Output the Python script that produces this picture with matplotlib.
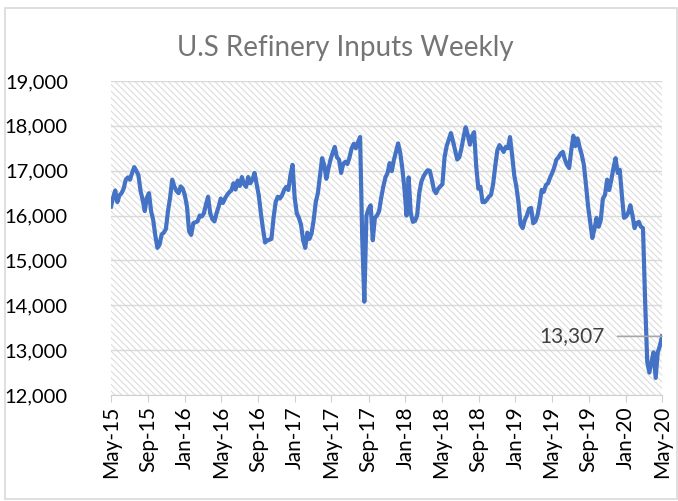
import numpy as np
import pandas as pd
import matplotlib
matplotlib.use("Agg")
import matplotlib.pyplot as plt
import matplotlib.dates as mdates
from matplotlib.patches import Rectangle
from matplotlib.ticker import FuncFormatter

plt.rcParams['font.family'] = ['Lato', 'DejaVu Sans']
plt.rcParams['hatch.linewidth'] = 0.8

# weekly refinery inputs (thousand b/d), May-2015 .. May-2020
start_date = '2015-05-01'
inputs = [
    16200, 16400, 16560, 16300, 16450, 16500, 16600, 16800, 16850, 16800,
    16950, 17080, 17000, 16900, 16550, 16350, 16100, 16400, 16500, 16100,
    15900, 15550, 15280, 15350, 15580, 15620, 15700, 16100, 16400, 16800,
    16650, 16550, 16500, 16650, 16600, 16450, 16200, 15650, 15570, 15830,
    15850, 15870, 16000, 15980, 16050, 16250, 16420, 16050, 15920, 15870,
    16050, 16200, 16380, 16280, 16380, 16460, 16520, 16560, 16720, 16580,
    16780, 16660, 16860, 16700, 16640, 16860, 16720, 16800, 16950, 16700,
    16450, 16050, 15700, 15400, 15450, 15460, 15480, 15950, 16300, 16420,
    16380, 16450, 16570, 16640, 16570, 16900, 17130, 16400, 16050, 15950,
    15800, 15450, 15280, 15620, 15480, 15600, 15900, 16300, 16500, 16900,
    17280, 17130, 16820, 17050, 17250, 17400, 17530, 17300, 17250, 16950,
    17150, 17200, 17150, 17300, 17500, 17600, 17500, 17640, 17750, 15500,
    14080, 16000, 16150, 16230, 15450, 15950, 16000, 16100, 16400, 16650,
    16850, 16950, 17170, 16990, 17240, 17420, 17610, 17400, 17050, 16600,
    16000, 16850, 16050, 15860, 15880, 16000, 16500, 16750, 16870, 16950,
    17010, 17000, 16800, 16570, 16500, 16600, 16650, 16700, 17300, 17550,
    17690, 17840, 17660, 17450, 17250, 17300, 17500, 17750, 17970, 17800,
    17580, 17770, 17860, 17100, 16600, 16640, 16300, 16300, 16350, 16420,
    16460, 16700, 17100, 17450, 17570, 17500, 17420, 17530, 17500, 17750,
    17350, 16900, 16650, 16300, 15800, 15720, 15900, 16000, 16150, 16170,
    15830, 15870, 16000, 16250, 16570, 16530, 16680, 16720, 16850, 16950,
    17080, 17250, 17300, 17380, 17420, 17250, 17130, 17060, 17450, 17780,
    17550, 17720, 17520, 17350, 17130, 16680, 16200, 15850, 15500, 15700,
    15950, 15750, 15900, 16380, 16460, 16800, 16570, 16800, 17060, 17280,
    16950, 17020, 16450, 15950, 15980, 16060, 16230, 16010, 15720, 15830,
    15860, 15750, 15720, 14100, 12740, 12500, 12740, 12950, 12380, 12950,
    13100, 13307,
]
dates = pd.date_range(start_date, periods=len(inputs), freq='7D')

title = 'U.S Refinery Inputs Weekly'
y_ticks = [12000, 13000, 14000, 15000, 16000, 17000, 18000, 19000]

fig = plt.figure(figsize=(6.78, 5.01), dpi=100)
ax = fig.add_axes([0.1637, 0.2116, 0.8127, 0.6267])

# hatched plot background
ax.set_facecolor('white')
ax.add_patch(Rectangle((0, 0), 1, 1, transform=ax.transAxes, facecolor='white',
                       edgecolor='#dcdcdc', hatch='\\\\\\\\\\', lw=0, zorder=0))

ax.plot(dates, inputs, color='#4472C4', lw=3.0, solid_joinstyle='round', zorder=3)

ax.set_ylim(y_ticks[0], y_ticks[-1])
ax.set_yticks(y_ticks)
ax.yaxis.set_major_formatter(FuncFormatter(lambda v, p: f'{int(v):,}'))
ax.grid(axis='y', color='#d9d9d9', lw=1.0, zorder=1)
ax.set_axisbelow(True)

ax.set_xlim(dates[0], dates[-1])
ax.xaxis.set_major_locator(mdates.MonthLocator(bymonth=[1, 5, 9]))
ax.xaxis.set_major_formatter(mdates.DateFormatter('%b-%y'))
for lbl in ax.get_xticklabels():
    lbl.set_rotation(90)

for s in ['top', 'right', 'left']:
    ax.spines[s].set_visible(False)
ax.spines['bottom'].set_color('#d0d0d0')
ax.tick_params(axis='y', length=0, labelsize=14.5, pad=31, colors='black')
ax.tick_params(axis='x', length=5, color='#d0d0d0', labelsize=15, pad=3)

ax.annotate(f'{inputs[-1]:,}', xy=(dates[-1], inputs[-1]), xytext=(-41, 0),
            textcoords='offset points', ha='right', va='center', fontsize=15,
            color='#404040',
            arrowprops=dict(arrowstyle='-', color='#a6a6a6', lw=1.2,
                            shrinkA=7, shrinkB=0))

fig.text(0.509, 0.904, title, ha='center', va='center', fontsize=20, color='#757575')

fig.patches.append(Rectangle((0.008, 0.004), 0.99, 0.98, transform=fig.transFigure,
                             fill=False, edgecolor='#d9d9d9', lw=1.2))

fig.savefig('out.png', dpi=100)
